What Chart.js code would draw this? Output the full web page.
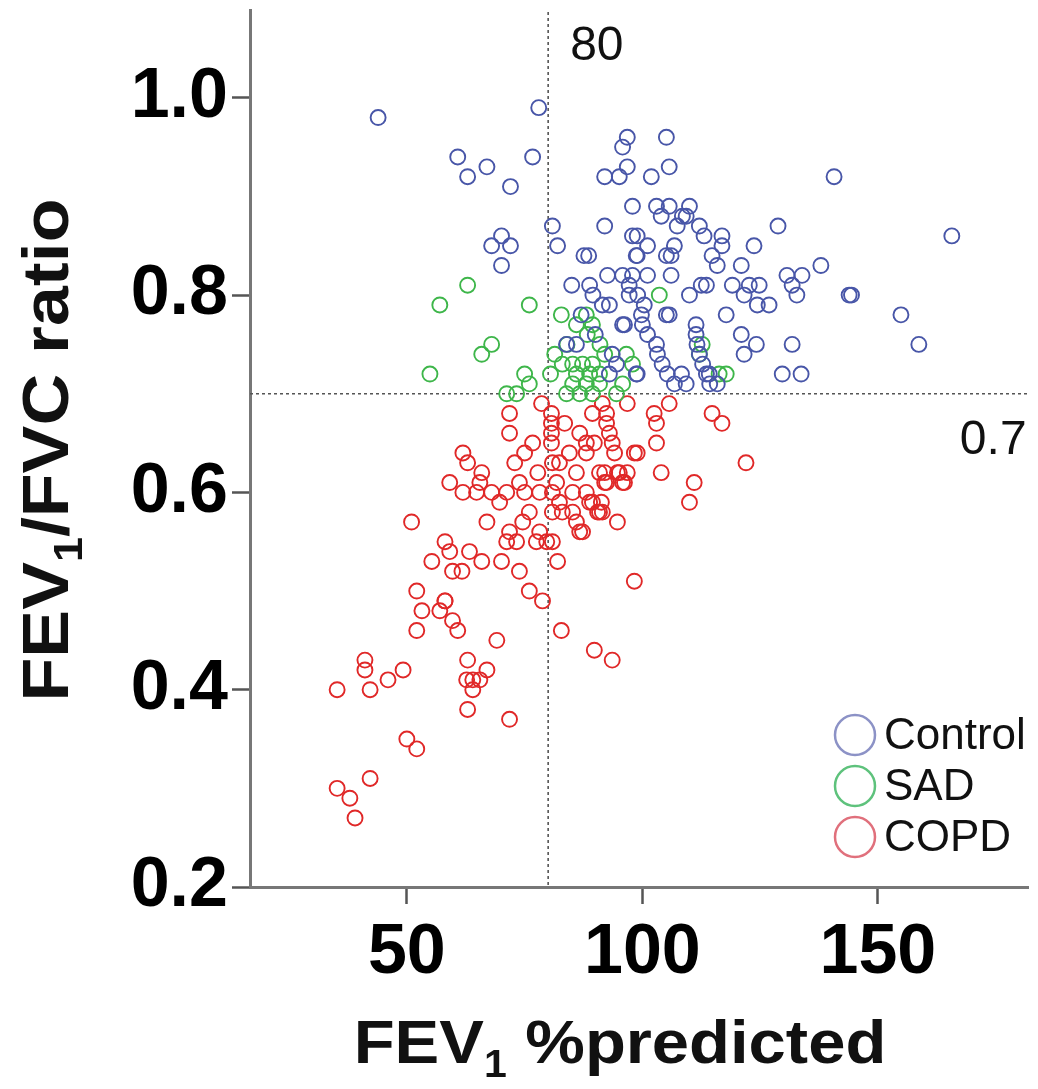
<!DOCTYPE html>
<html lang="en">
<head>
<meta charset="UTF-8">
<title>FEV1/FVC ratio vs FEV1 %predicted</title>
<script src="https://cdn.jsdelivr.net/npm/chart.js"></script>
<style>
  html, body { margin: 0; padding: 0; background: #fff; }
  #wrap { width: 1038px; height: 1089px; }
</style>
</head>
<body>
<div id="wrap"><canvas id="scatter" width="1038" height="1089"></canvas></div>
<script>
const categories = ['Control', 'SAD', 'COPD'];

// Control: FEV1 %predicted / FEV1/FVC ratio
const controlX = [43.9, 78, 60.8, 67, 62.9, 76.7, 72,
  96.8, 95.8, 96.8, 92, 95.1, 97.9, 92, 80.9, 82,
  70.1, 68, 72, 70.1, 87.6, 88.6, 97.9, 98.7,
  85, 88.8, 92.6, 95.8, 97.9,
  105.1, 105.7, 101.9, 140.7, 103, 105.7, 110, 104, 108.5, 109.3, 107.4, 112.1, 113.1, 116.9, 116.9, 128.8, 165.7,
  98.9, 101.1, 98.9, 106.8, 105.1, 106.1, 114.8, 115.9, 123.7, 121, 137.9,
  101.1, 106.1, 130.7, 133.9,
  97.2, 113.6, 112.5, 119.1, 122.7, 124.8, 131.8,
  97.2, 110, 121.6, 132.8, 143.9, 144.4,
  100.4, 99.8, 124.4, 126.9, 105.1, 105.7, 117.8, 154.9,
  96.2, 111.4, 101.1, 121,
  124.2, 121.6, 131.8, 158.7,
  103, 103.2, 104.2, 105.3,
  111.4, 111.6, 112.1, 112.8, 113.6, 114.3,
  98.9, 129.7, 133.7, 108.3, 109.3, 106.8, 114.2, 115.9,
  93, 95.8, 83.9, 93.6, 94.5, 93, 98.7,
  89.5, 91.5, 87, 90, 86, 99, 100];
const controlY = [0.98, 0.99, 0.94, 0.93, 0.92, 0.94, 0.91,
  0.96, 0.95, 0.93, 0.92, 0.92, 0.89, 0.87, 0.87, 0.85,
  0.86, 0.85, 0.85, 0.83, 0.84, 0.84, 0.86, 0.84,
  0.81, 0.81, 0.82, 0.82, 0.82,
  0.96, 0.93, 0.92, 0.92, 0.89, 0.89, 0.89, 0.88, 0.88, 0.88, 0.87, 0.87, 0.86, 0.86, 0.85, 0.87, 0.86,
  0.86, 0.85, 0.84, 0.85, 0.84, 0.84, 0.84, 0.83, 0.85, 0.83, 0.83,
  0.82, 0.82, 0.82, 0.82,
  0.81, 0.81, 0.81, 0.81, 0.81, 0.81, 0.81,
  0.80, 0.80, 0.80, 0.80, 0.80, 0.80,
  0.79, 0.78, 0.79, 0.79, 0.78, 0.78, 0.78, 0.78,
  0.77, 0.77, 0.76, 0.76,
  0.75, 0.74, 0.75, 0.75,
  0.75, 0.74, 0.73, 0.72,
  0.76, 0.75, 0.74, 0.73, 0.72, 0.71,
  0.72, 0.72, 0.72, 0.72, 0.71, 0.71, 0.72, 0.71,
  0.79, 0.77, 0.75, 0.74, 0.73, 0.72, 0.72,
  0.80, 0.79, 0.78, 0.76, 0.75, 0.80, 0.77];

const sadX = [62.9, 57, 76, 68, 65.9, 54.9, 75, 76, 71.2, 73.3,
  82.8, 88.1, 86, 88.3, 89.4, 81.4, 83, 85.2, 87.3, 89.4,
  86, 88.8, 90.9, 83.9, 86.7, 89.4, 94.5, 95.8, 85.2, 88.1,
  90.9, 97.9, 103.6, 96.6, 112.7, 112.1, 117.8, 116.3, 91, 92,
  80.5, 84];
const sadY = [0.81, 0.79, 0.79, 0.75, 0.74, 0.72, 0.72, 0.71, 0.70, 0.70,
  0.78, 0.78, 0.77, 0.76, 0.77, 0.74, 0.73, 0.73, 0.73, 0.73,
  0.72, 0.72, 0.72, 0.70, 0.70, 0.70, 0.70, 0.71, 0.71, 0.71,
  0.71, 0.73, 0.80, 0.74, 0.75, 0.74, 0.72, 0.72, 0.75, 0.74,
  0.72, 0.75];

const copdX = [78.6, 71.8, 71.8, 80.7, 80.7, 80.7, 80.7, 61.9, 62.9, 76.7, 75, 72.9, 80.9, 82.4, 65.9, 65.5, 59.1, 77.8,
  61.9, 64.8, 68, 71.2, 73.9, 75, 78.2, 69.7,
  81.8, 80.9, 82.4, 85.2, 88.1,
  80.9, 83, 85.2, 86, 87.3, 89.4, 90.9, 86.7, 94.7, 51, 67, 76, 74.6,
  71.8, 71.2, 73.3, 78.2, 77.5, 79.7, 80.9, 58.1, 59.1, 63.3, 65.9, 70.1, 55.3, 59.7, 61.7, 73.9, 82, 52.1, 58.1, 76, 98.3,
  86.7, 88.1, 88.1, 89.8, 92.4, 92.4, 93, 93.6, 89.4, 91.5, 96.8, 98.3, 90.9, 92.4, 94.7, 96.2, 88.8, 90.5,
  105.7, 102.5, 103, 114.8, 116.9, 103, 98.9, 94.1, 104, 92, 95.1, 96.8, 92, 95.8, 111, 110, 122, 91.3, 91.5,
  53.2, 57, 58.1, 59.7, 60.8, 52.1, 78.8, 82.8, 89.8, 93.6, 69.1, 62.9, 67, 65.5, 64, 62.7, 64, 62.9, 71.8,
  41.1, 41.1, 35.2, 42.2, 46, 49.2, 50, 52.1, 35.2, 37.9, 39, 42.2,
  83.5, 84.5, 86];
const copdY = [0.69, 0.68, 0.66, 0.68, 0.67, 0.66, 0.65, 0.64, 0.63, 0.65, 0.64, 0.63, 0.63, 0.63, 0.62, 0.61, 0.61, 0.62,
  0.60, 0.60, 0.60, 0.60, 0.61, 0.60, 0.60, 0.59,
  0.61, 0.60, 0.59, 0.60, 0.60,
  0.58, 0.58, 0.58, 0.57, 0.56, 0.59, 0.58, 0.56, 0.57, 0.57, 0.57, 0.58, 0.57,
  0.56, 0.55, 0.55, 0.56, 0.55, 0.55, 0.55, 0.55, 0.54, 0.54, 0.53, 0.53, 0.53, 0.52, 0.52, 0.52, 0.53, 0.50, 0.49, 0.50, 0.51,
  0.66, 0.65, 0.64, 0.65, 0.68, 0.67, 0.66, 0.65, 0.68, 0.69, 0.69, 0.64, 0.62, 0.61, 0.62, 0.61, 0.59, 0.58,
  0.69, 0.68, 0.67, 0.68, 0.67, 0.65, 0.64, 0.64, 0.62, 0.62, 0.62, 0.62, 0.61, 0.61, 0.61, 0.59, 0.63, 0.59, 0.58,
  0.48, 0.48, 0.49, 0.47, 0.46, 0.46, 0.49, 0.46, 0.44, 0.43, 0.45, 0.43, 0.42, 0.41, 0.41, 0.41, 0.40, 0.38, 0.37,
  0.43, 0.42, 0.40, 0.40, 0.41, 0.42, 0.35, 0.34, 0.30, 0.29, 0.27, 0.31,
  0.67, 0.64, 0.62];

const xTicks = [50, 100, 150];
const yTicks = [0.2, 0.4, 0.6, 0.8, 1.0];
const cutoffFev1 = 80;
const cutoffRatio = 0.7;

const pointColors = ['#4856a8', '#3eb64a', '#e02828'];
const legendColors = ['#8c92c6', '#5ec27c', '#e0707c'];
const FONT = '"Liberation Sans", Arial, sans-serif';

function pairs(xs, ys) {
  return xs.map((x, i) => ({ x: x, y: ys[i] }));
}

// dashed cut-off lines and their labels
const refLines = {
  id: 'refLines',
  beforeDatasetsDraw(chart) {
    const ctx = chart.ctx;
    const area = chart.chartArea;
    const px = chart.scales.x.getPixelForValue(cutoffFev1);
    const py = chart.scales.y.getPixelForValue(cutoffRatio);
    ctx.save();
    ctx.strokeStyle = '#555';
    ctx.lineWidth = 1.6;
    ctx.setLineDash([3, 3]);
    ctx.beginPath();
    ctx.moveTo(px, area.top + 2);
    ctx.lineTo(px, area.bottom);
    ctx.moveTo(area.left, py);
    ctx.lineTo(area.right, py);
    ctx.stroke();
    ctx.setLineDash([]);
    ctx.fillStyle = '#111';
    ctx.font = '48px ' + FONT;
    ctx.textBaseline = 'alphabetic';
    ctx.textAlign = 'left';
    ctx.fillText(String(cutoffFev1), px + 22, area.top + 50);
    ctx.textAlign = 'right';
    ctx.fillText(String(cutoffRatio), area.right - 2, py + 60);
    ctx.restore();
  }
};

// axis title with a subscript 1, stretched along the text by 'stretch'
function drawSubTitle(ctx, before, sub, after, size, stretch) {
  const big = 'bold ' + size + 'px ' + FONT;
  const small = 'bold ' + Math.round(size * 0.62) + 'px ' + FONT;
  ctx.font = big;
  const w1 = ctx.measureText(before).width;
  const w3 = ctx.measureText(after).width;
  ctx.font = small;
  const w2 = ctx.measureText(sub).width;
  ctx.scale(stretch, 1);
  let x = -(w1 + w2 + w3) / 2;
  ctx.textAlign = 'left';
  ctx.textBaseline = 'alphabetic';
  ctx.font = big;
  ctx.fillText(before, x, 0);
  x += w1;
  ctx.font = small;
  ctx.fillText(sub, x, Math.round(size * 0.22));
  x += w2;
  ctx.font = big;
  ctx.fillText(after, x, 0);
}

const axisTitles = {
  id: 'axisTitles',
  afterDraw(chart) {
    const ctx = chart.ctx;
    ctx.save();
    ctx.fillStyle = '#111';
    ctx.translate(620, 1063);
    drawSubTitle(ctx, 'FEV', '1', ' %predicted', 62, 1.08);
    ctx.restore();
    ctx.save();
    ctx.fillStyle = '#111';
    ctx.translate(68, 450);
    ctx.rotate(-Math.PI / 2);
    drawSubTitle(ctx, 'FEV', '1', '/FVC ratio', 64, 1.12);
    ctx.restore();
  }
};

// legend inside the plot, bottom right
const boxLegend = {
  id: 'boxLegend',
  afterDraw(chart) {
    const ctx = chart.ctx;
    ctx.save();
    chart.data.datasets.forEach((ds, i) => {
      const cy = 735 + i * 51;
      ctx.beginPath();
      ctx.arc(855, cy, 20, 0, Math.PI * 2);
      ctx.strokeStyle = legendColors[i];
      ctx.lineWidth = 2.5;
      ctx.stroke();
      ctx.fillStyle = '#111';
      ctx.font = '44px ' + FONT;
      ctx.textAlign = 'left';
      ctx.textBaseline = 'middle';
      ctx.fillText(ds.label, 884, cy + 2);
    });
    ctx.restore();
  }
};

const seriesData = [pairs(controlX, controlY), pairs(sadX, sadY), pairs(copdX, copdY)];

new Chart(document.getElementById('scatter'), {
  type: 'scatter',
  data: {
    datasets: categories.map((name, i) => ({
      label: name,
      data: seriesData[i],
      pointStyle: 'circle',
      pointRadius: 7.5,
      pointHoverRadius: 7.5,
      pointBorderWidth: 1.9,
      borderColor: pointColors[i],
      backgroundColor: 'rgba(0,0,0,0)'
    }))
  },
  options: {
    responsive: false,
    animation: false,
    devicePixelRatio: 1,
    layout: { padding: { top: 10, right: 8, left: 0, bottom: 0 } },
    plugins: {
      legend: { display: false },
      tooltip: { enabled: false }
    },
    scales: {
      x: {
        type: 'linear',
        min: 16.7,
        max: 182,
        afterBuildTicks: s => { s.ticks = xTicks.map(v => ({ value: v })); },
        afterFit: s => { s.height = 202; s.paddingLeft = 0; s.paddingRight = 0; },
        ticks: {
          color: '#000',
          padding: 8,
          font: { family: FONT, size: 70, weight: 'bold' },
          callback: v => String(v)
        },
        grid: { drawOnChartArea: false, drawTicks: true, tickLength: 17, tickWidth: 2.5, tickColor: '#555' },
        border: { display: true, color: '#777', width: 3 }
      },
      y: {
        type: 'linear',
        min: 0.2,
        max: 1.089,
        afterBuildTicks: s => { s.ticks = yTicks.map(v => ({ value: v })); },
        afterFit: s => { s.width = 250; s.paddingTop = 0; s.paddingBottom = 0; },
        ticks: {
          color: '#000',
          padding: 4,
          font: { family: FONT, size: 70, weight: 'bold' },
          callback: v => Number(v).toFixed(1)
        },
        grid: { drawOnChartArea: false, drawTicks: true, tickLength: 18, tickWidth: 2.5, tickColor: '#555' },
        border: { display: true, color: '#777', width: 3 }
      }
    }
  },
  plugins: [refLines, axisTitles, boxLegend]
});
</script>
</body>
</html>
